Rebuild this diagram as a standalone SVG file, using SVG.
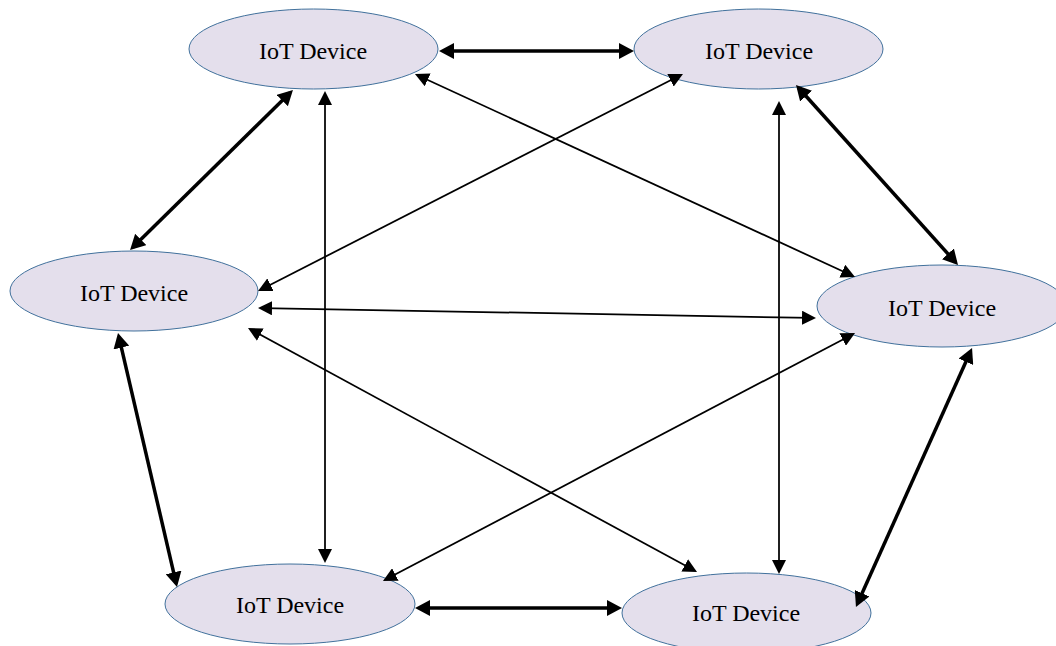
<svg xmlns="http://www.w3.org/2000/svg" width="1056" height="646" viewBox="0 0 1056 646">
  <style>
    .dev ellipse { fill: #E4DFEC; stroke: #41719C; stroke-width: 1; }
    .dev text { font-family: "Liberation Serif", "Times New Roman", serif; font-size: 24px; fill: #000; text-anchor: middle; }
    .thick { stroke: #000; stroke-width: 3.5; fill: none; marker-start: url(#headThick); marker-end: url(#headThick); }
    .thin { stroke: #000; stroke-width: 1.75; fill: none; marker-start: url(#headThin); marker-end: url(#headThin); }
  </style>
  <defs>
    <marker id="headThick" markerUnits="userSpaceOnUse" markerWidth="16" markerHeight="16" refX="11" refY="8" orient="auto-start-reverse">
      <path d="M0,0 L15,8 L0,16 z" fill="#000"/>
    </marker>
    <marker id="headThin" markerUnits="userSpaceOnUse" markerWidth="14" markerHeight="14" refX="10" refY="7" orient="auto-start-reverse">
      <path d="M0,0 L14,7 L0,14 z" fill="#000"/>
    </marker>
  </defs>
  <rect width="1056" height="646" fill="#fff"/>

  <g id="device-top-left" class="dev">
    <ellipse cx="313.5" cy="49" rx="124.5" ry="40"/>
    <text x="313" y="59">IoT Device</text>
  </g>
  <g id="device-top-right" class="dev">
    <ellipse cx="758.5" cy="49" rx="124.5" ry="40"/>
    <text x="759" y="59">IoT Device</text>
  </g>
  <g id="device-left" class="dev">
    <ellipse cx="134" cy="291" rx="124" ry="40"/>
    <text x="134" y="301">IoT Device</text>
  </g>
  <g id="device-right" class="dev">
    <ellipse cx="942" cy="306" rx="125" ry="41"/>
    <text x="942" y="316">IoT Device</text>
  </g>
  <g id="device-bottom-left" class="dev">
    <ellipse cx="290" cy="604" rx="125" ry="40"/>
    <text x="290" y="613">IoT Device</text>
  </g>
  <g id="device-bottom-right" class="dev">
    <ellipse cx="746.5" cy="613" rx="124.5" ry="40"/>
    <text x="746" y="621">IoT Device</text>
  </g>

  <g id="connectors">
    <line class="thick" x1="443" y1="51" x2="630" y2="51"/>
    <line class="thick" x1="290.1" y1="92.8" x2="132.9" y2="247.2"/>
    <line class="thin" x1="325" y1="95" x2="325" y2="559"/>
    <line class="thin" x1="418.6" y1="75.7" x2="851.4" y2="275.3"/>
    <line class="thin" x1="679.4" y1="75.8" x2="261.6" y2="289.2"/>
    <line class="thin" x1="779" y1="105" x2="779" y2="570"/>
    <line class="thick" x1="798.7" y1="88" x2="955.3" y2="262"/>
    <line class="thin" x1="262" y1="308.1" x2="812" y2="317.9"/>
    <line class="thick" x1="118.9" y1="336.9" x2="176.1" y2="583.1"/>
    <line class="thin" x1="251.5" y1="329.9" x2="693.5" y2="570.1"/>
    <line class="thin" x1="851.5" y1="334.9" x2="386.5" y2="579.1"/>
    <line class="thick" x1="970.4" y1="351.7" x2="857.6" y2="603.3"/>
    <line class="thick" x1="419" y1="608" x2="618" y2="608"/>
  </g>
</svg>
